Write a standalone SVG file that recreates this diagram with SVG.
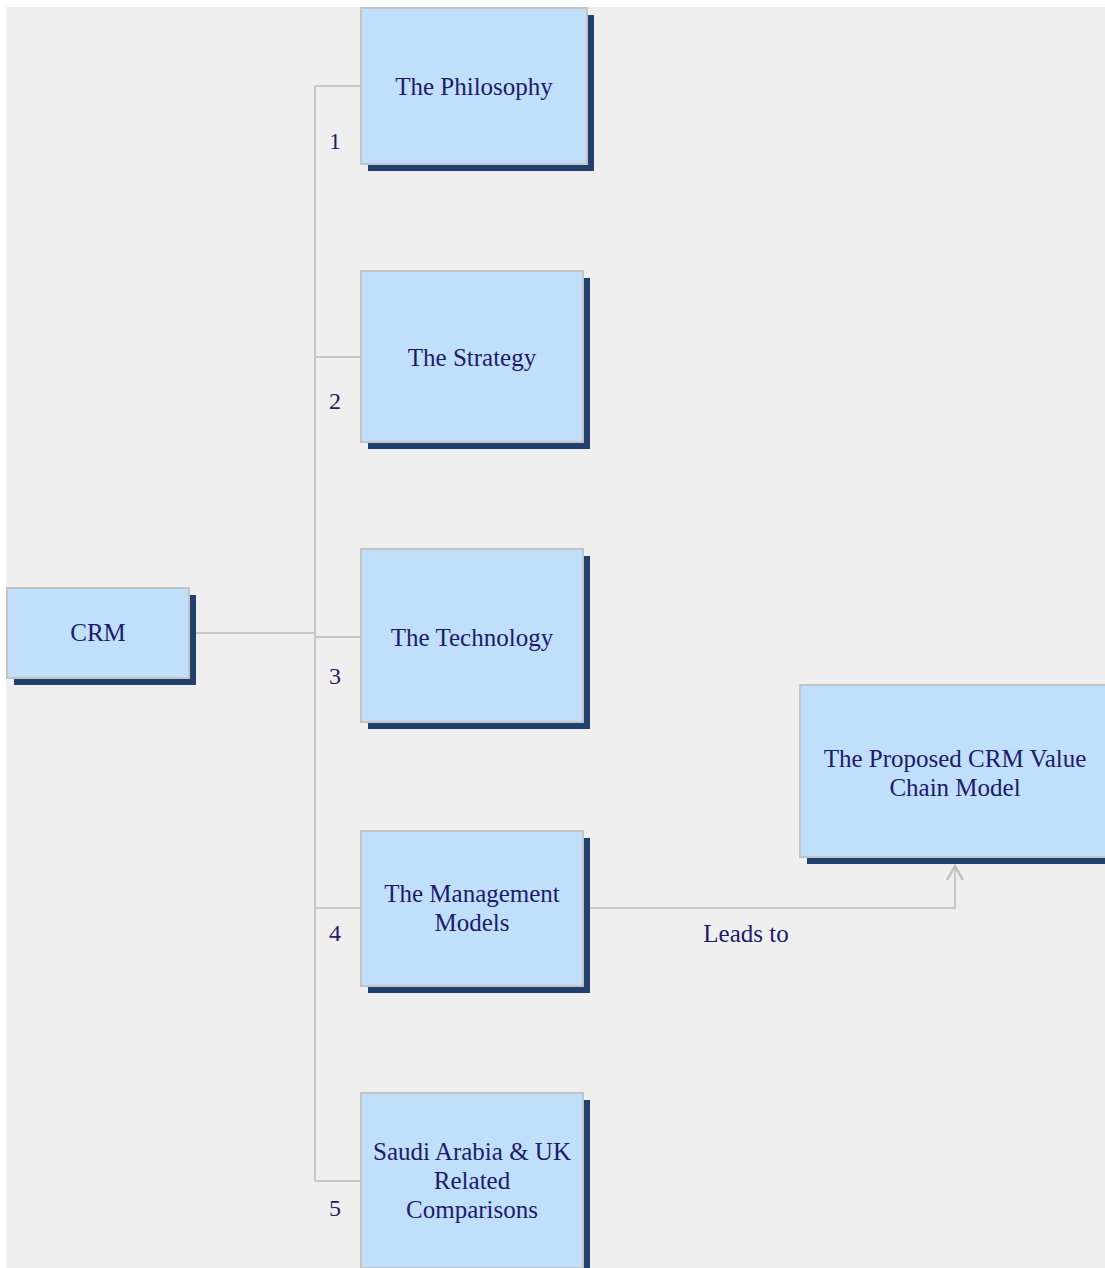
<svg xmlns="http://www.w3.org/2000/svg" width="1105" height="1268" viewBox="0 0 1105 1268">
<style>
.bg{fill:#efefef}
.box{fill:#c0dffa;stroke:#c4c4c4;stroke-width:2}
.sh{fill:#22406e}
.t{font-family:'Liberation Serif','DejaVu Serif','Times New Roman',serif;font-size:25px;fill:#1e1a6c;text-anchor:middle}
.n{font-family:'Liberation Serif','DejaVu Serif','Times New Roman',serif;font-size:24px;fill:#2a1a66;text-anchor:middle}
.c{fill:none;stroke:#c8c8c8;stroke-width:2}
</style>
<defs>
<marker id="arr" markerWidth="20" markerHeight="20" refX="18" refY="10" orient="auto" markerUnits="userSpaceOnUse" viewBox="0 0 20 20">
<path d="M4,2 L18,10 L4,18" fill="none" stroke="#c0c0c0" stroke-width="2.5"/>
</marker>
</defs>
<rect class="bg" x="6" y="7" width="1099" height="1261"/>
<g id="connectors">
<path class="c" d="M196,633 H315"/>
<path class="c" d="M315,86 V1181"/>
<path class="c" d="M315,86 H361"/>
<path class="c" d="M315,357 H361"/>
<path class="c" d="M315,637 H361"/>
<path class="c" d="M315,908 H361"/>
<path class="c" d="M315,1181 H361"/>
<path class="c" d="M590,908 H955 V866" marker-end="url(#arr)"/>
<text class="n" x="335" y="149">1</text>
<text class="n" x="335" y="409">2</text>
<text class="n" x="335" y="684">3</text>
<text class="n" x="335" y="941">4</text>
<text class="n" x="335" y="1216">5</text>
<text class="t" x="746" y="942">Leads to</text>
</g>
<g id="crm">
<rect class="sh" x="14" y="595" width="182" height="90"/>
<rect class="box" x="7" y="588" width="182" height="90"/>
<text class="t" x="98" y="641">CRM</text>
</g>
<g id="philosophy">
<rect class="sh" x="368" y="15" width="226" height="156"/>
<rect class="box" x="361" y="8" width="226" height="156"/>
<text class="t" x="474" y="95">The Philosophy</text>
</g>
<g id="strategy">
<rect class="sh" x="368" y="278" width="222" height="171"/>
<rect class="box" x="361" y="271" width="222" height="171"/>
<text class="t" x="472" y="366">The Strategy</text>
</g>
<g id="technology">
<rect class="sh" x="368" y="556" width="222" height="173"/>
<rect class="box" x="361" y="549" width="222" height="173"/>
<text class="t" x="472" y="646">The Technology</text>
</g>
<g id="management">
<rect class="sh" x="368" y="838" width="222" height="155"/>
<rect class="box" x="361" y="831" width="222" height="155"/>
<text class="t" x="472" y="902">The Management</text>
<text class="t" x="472" y="931">Models</text>
</g>
<g id="saudi">
<rect class="sh" x="368" y="1100" width="222" height="175"/>
<rect class="box" x="361" y="1093" width="222" height="175"/>
<text class="t" x="472" y="1160">Saudi Arabia &amp; UK</text>
<text class="t" x="472" y="1189">Related</text>
<text class="t" x="472" y="1218">Comparisons</text>
</g>
<g id="proposed">
<rect class="sh" x="807" y="692" width="310" height="172"/>
<rect class="box" x="800" y="685" width="320" height="172"/>
<text class="t" x="955" y="767">The Proposed CRM Value</text>
<text class="t" x="955" y="796">Chain Model</text>
</g>
</svg>
